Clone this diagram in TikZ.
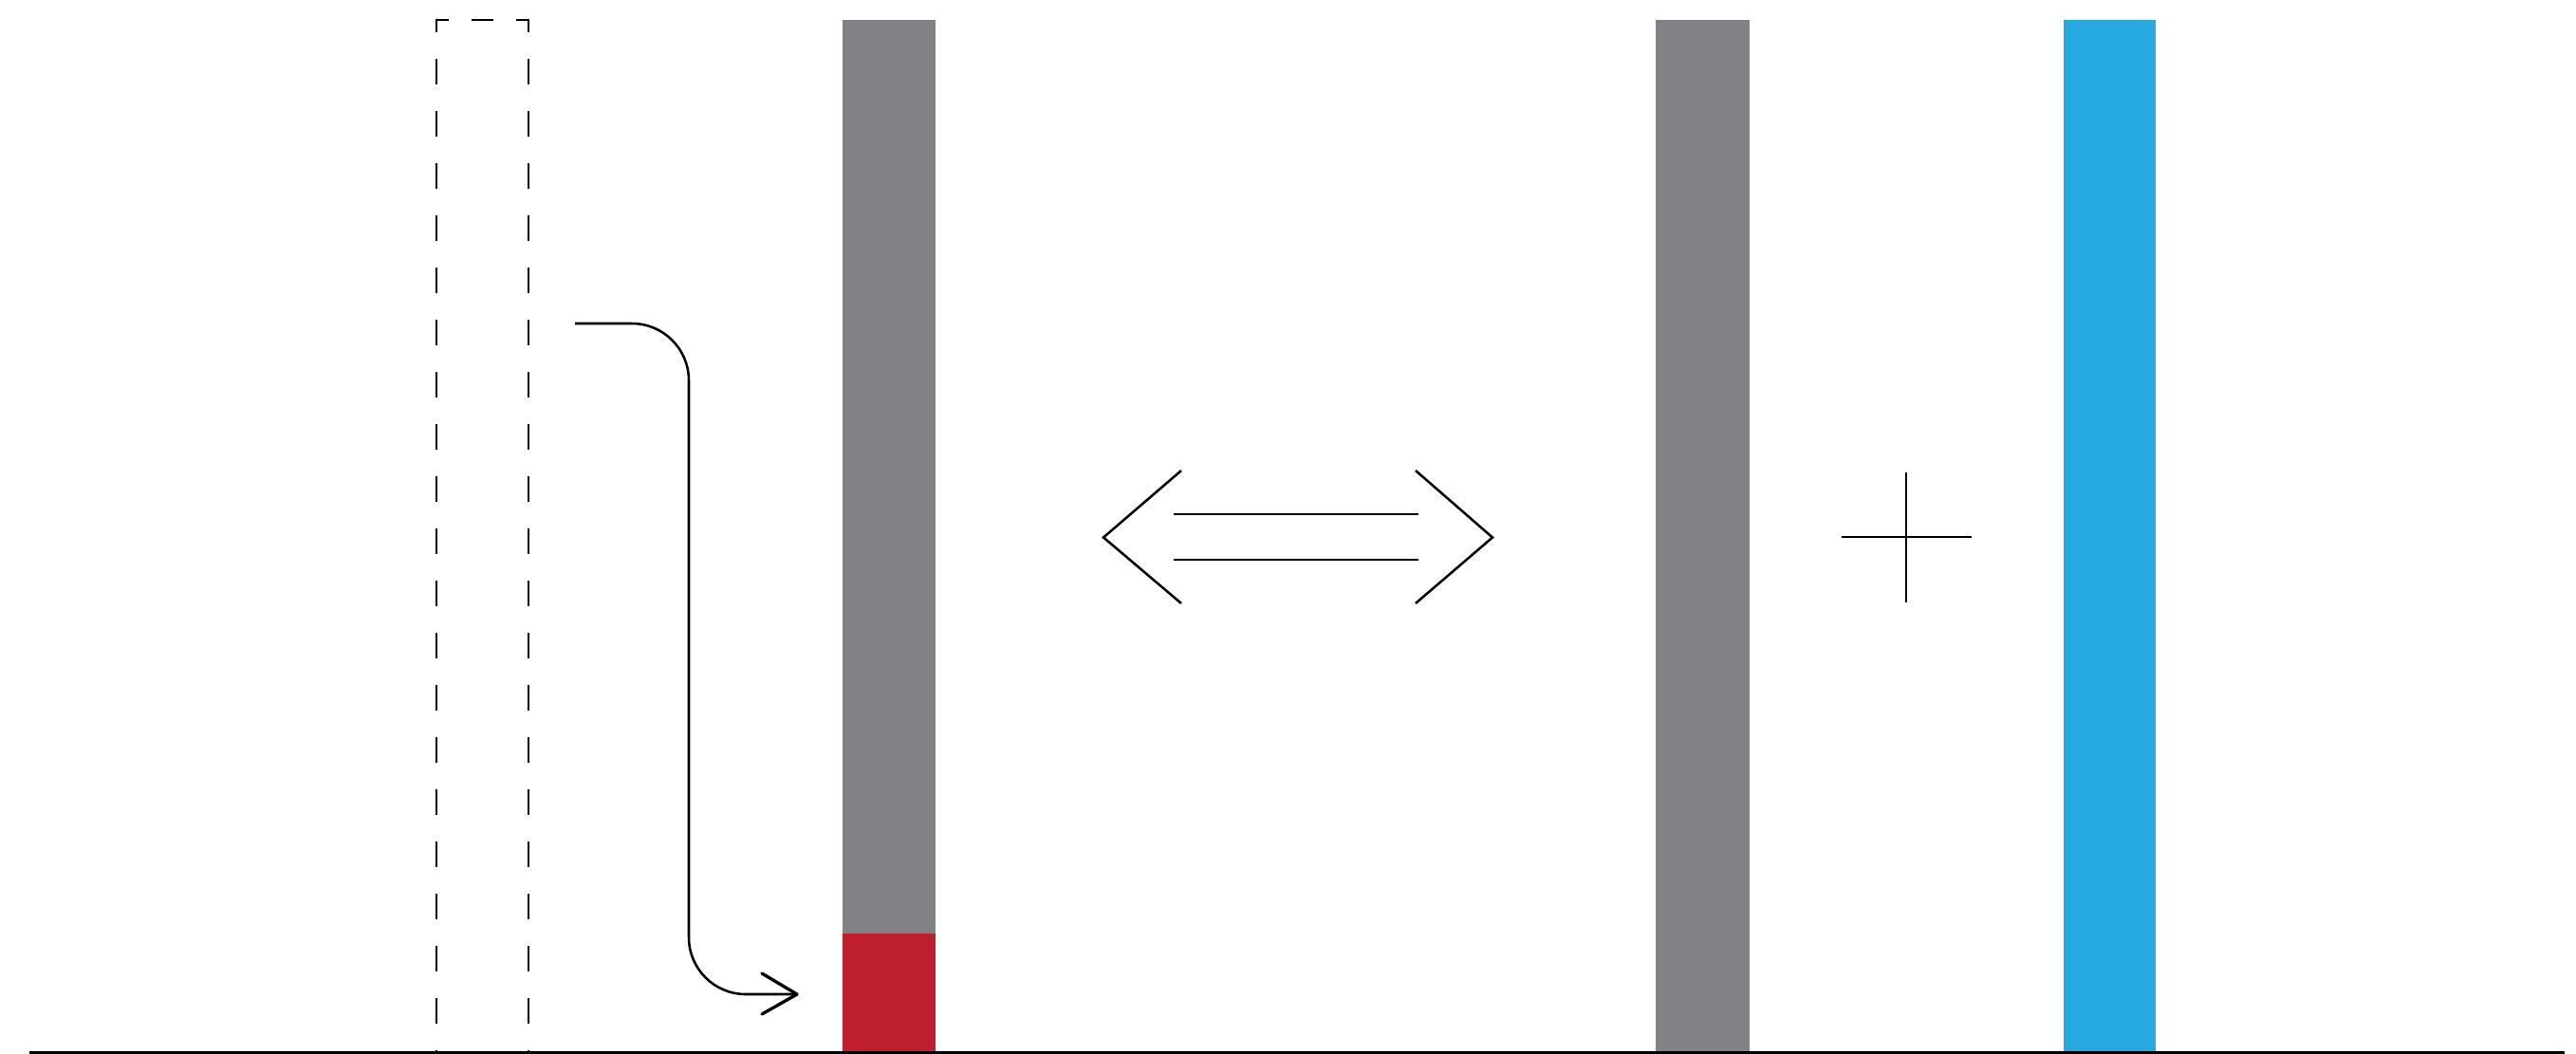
\documentclass[tikz,border=0pt]{standalone}
\usetikzlibrary{calc}
\definecolor{bargray}{HTML}{808285}
\definecolor{barred}{HTML}{BE1E2D}
\definecolor{barblue}{HTML}{27AAE1}
\tikzset{
  ln/.style={line width=0.72pt, black},
  dashline/.style={ln, dash pattern=on 0.27cm off 0.28cm, dash phase=0.27cm},
  tip/.style={line width=0.95pt, line cap=round, line join=round},
}
\begin{document}
\begin{tikzpicture}
\useasboundingbox (0,0) rectangle (27.15,-11.11);
% bars
\fill[bargray] (8.88,-0.21) rectangle (9.855,-9.835);
\fill[barred] (8.88,-9.835) rectangle (9.855,-11.09);
\fill[bargray] (17.45,-0.21) rectangle (18.44,-11.09);
\fill[barblue] (21.75,-0.21) rectangle (22.72,-11.09);
% dashed rectangle
\draw[ln, line join=miter] (4.60,-0.34) -- (4.60,-0.21) -- (4.73,-0.21);
\draw[ln] (4.97,-0.21) -- (5.20,-0.21);
\draw[ln, line join=miter] (5.435,-0.21) -- (5.57,-0.21) -- (5.57,-0.34);
\draw[dashline] (4.60,-0.34) -- (4.60,-11.09);
\draw[dashline] (5.57,-0.34) -- (5.57,-11.09);
% curved arrow
\coordinate (a0) at (6.06,-3.41);
\coordinate (a1) at (7.26,-10.48);
\coordinate (a2) at (8.40,-10.48);
\draw[ln, rounded corners=0.6cm] (a0) -| (a1) -- (a2);
\draw[tip] (8.03,-10.26) -- (a2) -- (8.03,-10.69);
% double arrow
\draw[ln] (12.45,-4.96) -- (11.63,-5.665) -- (12.45,-6.36);
\draw[ln] (14.92,-4.96) -- (15.73,-5.665) -- (14.92,-6.36);
\draw[ln] (12.37,-5.42) -- (14.95,-5.42);
\draw[ln] (12.37,-5.90) -- (14.95,-5.90);
% plus
\draw[ln] (20.09,-4.98) -- (20.09,-6.35);
\draw[ln] (19.41,-5.66) -- (20.78,-5.66);
% base line
\draw[ln] (0.31,-11.095) -- (27.03,-11.095);
\end{tikzpicture}
\end{document}
